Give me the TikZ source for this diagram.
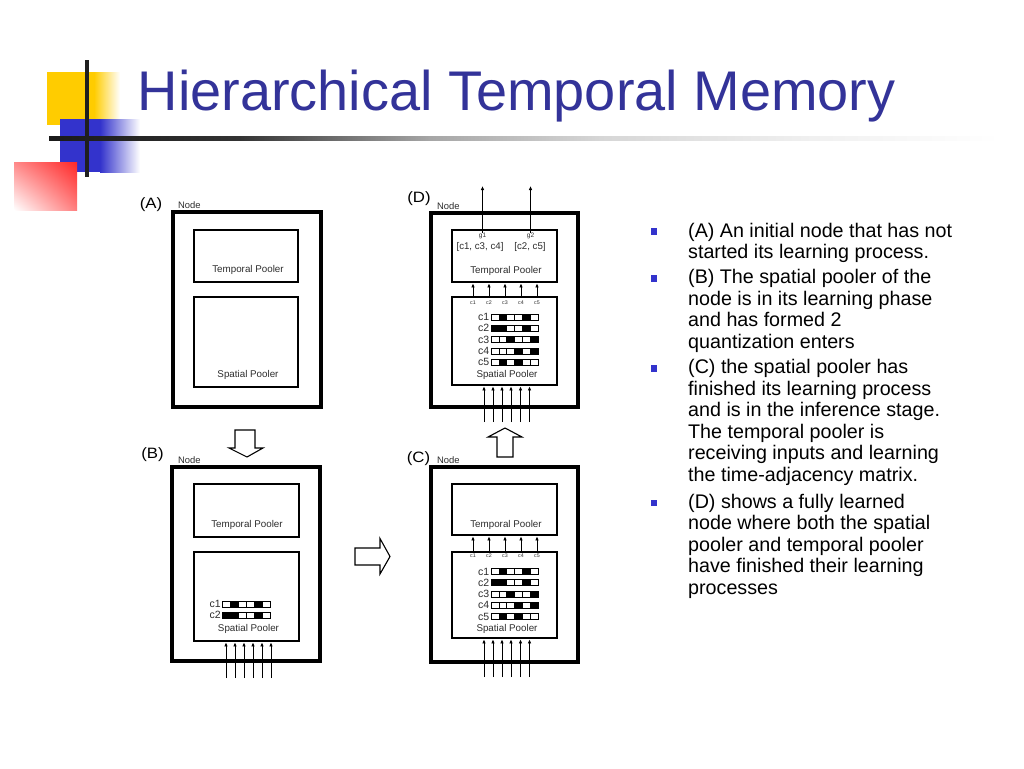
\documentclass[tikz,border=0pt]{standalone}
\usepackage{fontspec}
\setmainfont{Liberation Sans}
\usetikzlibrary{arrows.meta,shadings}
\definecolor{titleblue}{RGB}{51,51,153}
\definecolor{bulletblue}{RGB}{51,51,204}
\definecolor{sqyellow}{RGB}{255,204,0}
\definecolor{sqblue}{RGB}{51,51,204}
\definecolor{sqred}{RGB}{255,40,40}
\definecolor{labgray}{RGB}{45,45,45}
\pgfdeclarehorizontalshading{tline}{100bp}{color(0bp)=(black!90); color(25bp)=(black!90); color(35bp)=(black!80); color(45bp)=(black!35); color(54bp)=(black!16); color(65bp)=(black!6); color(75bp)=(white); color(100bp)=(white)}
\newcommand\cellrow[4]{%
  \foreach \v [count=\k from 0] in {#4} {
    \draw[cellsty, fill=black!\v] ({#1+\k*#3},{#2-3}) rectangle ({#1+(\k+1)*#3},{#2+3});
  }}
\tikzset{
  outerbox/.style={draw, line width=3.2pt, inner sep=0pt},
  innerbox/.style={draw, line width=2.8pt, inner sep=0pt},
  lbl/.style={font=\fontsize{9.8}{10}\selectfont, text=labgray, inner sep=0pt},
  nodelbl/.style={font=\fontsize{9.4}{10}\selectfont, text=labgray, inner sep=0pt, anchor=west},
  panellbl/.style={font=\fontsize{15}{15}\selectfont, inner sep=0pt, xscale=1.12},
  rowlbl/.style={font=\fontsize{10.5}{11}\selectfont, text=labgray, inner sep=0pt, anchor=east},
  tinylbl/.style={font=\fontsize{5.3}{5.3}\selectfont, text=labgray, inner sep=0pt},
  glbl/.style={font=\fontsize{6.5}{7}\selectfont, text=labgray, inner sep=0pt},
  grplbl/.style={font=\fontsize{9.7}{10}\selectfont, text=labgray, inner sep=0pt},
  cellsty/.style={draw=black, line width=0.7pt},
  inarr/.style={line width=0.9pt, -{Latex[length=4pt,width=3.6pt]}},
  blockarrow/.style={draw=black, line width=1.1pt, fill=white, line join=miter},
  body/.style={font=\fontsize{19.7}{21.6}\selectfont, inner sep=0pt, anchor=base west},
  bullet/.style={fill=bulletblue, draw=none, minimum size=6.5pt, inner sep=0pt}
}
\begin{document}
\begin{tikzpicture}[x=1pt,y=-1pt]
\useasboundingbox (0,0) rectangle (1024,768);
\fill[white] (0,0) rectangle (1024,768);
% decoration
\fill[sqyellow] (47,72) rectangle (94,125);
\shade[left color=sqyellow, right color=white] (94,72) rectangle (120,125);
\fill[sqblue] (60,119) rectangle (100,172);
\shade[left color=sqblue, right color=white] (100,119) rectangle (140,172);
\shade[upper left=sqred!55!white, upper right=sqred, lower left=white, lower right=sqred!60!white] (14,162) rectangle (77,210);
\shade[shading=tline] (49,136) rectangle (1000,140);
\fill[black!88] (85,60) rectangle (89,177);
% title
\node[anchor=base west, inner sep=0pt, font=\fontsize{55.9}{60}\selectfont, text=titleblue] (title) at (137.5,110) {Hierarchical Temporal Memory};

% ---------- Panel A ----------
\node[outerbox, minimum width=148pt, minimum height=195pt] (outA) at (247,309.5) {};
\node[innerbox, minimum width=104pt, minimum height=52pt] (tpA) at (246,256) {};
\node[innerbox, minimum width=104pt, minimum height=90pt] (spA) at (246,342) {};
\node[lbl] (tpAl) at (248,270) {Temporal Pooler};
\node[lbl] (spAl) at (248,375) {Spatial Pooler};
\node[panellbl] (labA) at (151,205) {(A)};
\node[nodelbl] (nodA) at (178,205.3) {Node};

% ---------- Panel B ----------
\node[outerbox, minimum width=148pt, minimum height=194pt] (outB) at (246,564) {};
\node[innerbox, minimum width=105pt, minimum height=53pt] (tpB) at (246.5,510.5) {};
\node[innerbox, minimum width=105pt, minimum height=89pt] (spB) at (246.5,596.5) {};
\node[lbl] (tpBl) at (247,525) {Temporal Pooler};
\node[lbl] (spBl) at (248.5,629) {Spatial Pooler};
\node[panellbl] (labB) at (152.5,455) {(B)};
\node[nodelbl] (nodB) at (178,459.7) {Node};
\node[rowlbl] (cB1) at (221,604) {c1};
\node[rowlbl] (cB2) at (221,615) {c2};
\cellrow{222}{604}{8.1}{0,100,0,0,100,0}
\cellrow{222}{615}{8.1}{100,100,0,0,100,0}
\foreach \x in {226,235,244,253,262,271} \draw[inarr] (\x,678) -- (\x,0 |- spB.south);

% ---------- Panel D ----------
\node[outerbox, minimum width=147pt, minimum height=194pt] (outD) at (504.5,310) {};
\node[innerbox, minimum width=105pt, minimum height=52pt] (tpD) at (504.5,256) {};
\node[innerbox, minimum width=105pt, minimum height=88pt] (spD) at (504.5,341) {};
\node[lbl] (tpDl) at (506,271) {Temporal Pooler};
\node[lbl] (spDl) at (507,375) {Spatial Pooler};
\node[panellbl] (labD) at (419,199) {(D)};
\node[nodelbl] (nodD) at (437,206) {Node};
\node[glbl] (g1) at (482.5,236) {g1};
\node[glbl] (g2) at (530.5,236) {g2};
\node[grplbl] (grp1) at (480,247) {[c1, c3, c4]};
\node[grplbl] (grp2) at (530,247) {[c2, c5]};
\coordinate (g1top) at (482.5,186);
\coordinate (g2top) at (530.5,186);
\draw[inarr] (g1.north) -- (g1top);
\draw[inarr] (g2.north) -- (g2top);
\foreach \x/\n in {473/1,489/2,505/3,521/4,537/5} {
  \draw[inarr] (\x,0 |- spD.north) -- (\x,0 |- tpD.south);
  \node[tinylbl] (tD\n) at (\x,302.5) {c\n};
}
\node[rowlbl] (cD1) at (489.5,317) {c1};
\node[rowlbl] (cD2) at (489.5,328.3) {c2};
\node[rowlbl] (cD3) at (489.5,339.6) {c3};
\node[rowlbl] (cD4) at (489.5,351) {c4};
\node[rowlbl] (cD5) at (489.5,362.3) {c5};
\cellrow{491}{317}{7.85}{0,100,0,0,100,0}
\cellrow{491}{328.3}{7.85}{100,100,0,0,100,0}
\cellrow{491}{339.6}{7.85}{0,0,100,0,0,100}
\cellrow{491}{351}{7.85}{0,0,0,100,0,100}
\cellrow{491}{362.3}{7.85}{0,100,0,100,0,0}
\foreach \x in {484,493,502,511,520.5,529.5} \draw[inarr] (\x,422) -- (\x,0 |- spD.south);

% ---------- Panel C ----------
\node[outerbox, minimum width=147pt, minimum height=195pt] (outC) at (504.5,564.5) {};
\node[innerbox, minimum width=105pt, minimum height=51pt] (tpC) at (504.5,509.5) {};
\node[innerbox, minimum width=105pt, minimum height=86pt] (spC) at (504.5,595) {};
\node[lbl] (tpCl) at (506,525) {Temporal Pooler};
\node[lbl] (spCl) at (507,629) {Spatial Pooler};
\node[panellbl] (labC) at (418.5,459) {(C)};
\node[nodelbl] (nodC) at (437,460) {Node};
\foreach \x/\n in {473/1,489/2,505/3,521/4,537/5} {
  \draw[inarr] (\x,0 |- spC.north) -- (\x,0 |- tpC.south);
  \node[tinylbl] (tC\n) at (\x,556) {c\n};
}
\node[rowlbl] (cC1) at (489.5,571.5) {c1};
\node[rowlbl] (cC2) at (489.5,582.7) {c2};
\node[rowlbl] (cC3) at (489.5,594) {c3};
\node[rowlbl] (cC4) at (489.5,605.2) {c4};
\node[rowlbl] (cC5) at (489.5,616.5) {c5};
\cellrow{491}{571.5}{7.85}{0,100,0,0,100,0}
\cellrow{491}{582.7}{7.85}{100,100,0,0,100,0}
\cellrow{491}{594}{7.85}{0,0,100,0,0,100}
\cellrow{491}{605.2}{7.85}{0,0,0,100,0,100}
\cellrow{491}{616.5}{7.85}{0,100,0,100,0,0}
\foreach \x in {484,493,502,511,520.5,529.5} \draw[inarr] (\x,677) -- (\x,0 |- spC.south);

% ---------- block arrows ----------
\draw[blockarrow] (235,430) -- (255,430) -- (255,448) -- (263,448) -- (247,457) -- (229,448) -- (235,448) -- cycle;
\draw[blockarrow] (355,548) -- (380,548) -- (380,538.5) -- (390,556.5) -- (380,574) -- (380,565) -- (355,565) -- cycle;
\draw[blockarrow] (505,428) -- (522,437) -- (513,437) -- (513,457) -- (497,457) -- (497,437) -- (488,437) -- cycle;

% ---------- bullet text ----------
\node[bullet] (bA) at (654,231.5) {};
\node[bullet] (bB) at (654,278.5) {};
\node[bullet] (bC) at (654,368.5) {};
\node[bullet] (bD) at (654,503) {};
\foreach \t [count=\i from 0] in {{(A) An initial node that has not},{started its learning process.}}
  \node[body] (ta\i) at (688,{237+21.6*\i}) {\t};
\foreach \t [count=\i from 0] in {{(B) The spatial pooler of the},{node is in its learning phase},{and has formed 2},{quantization enters}}
  \node[body] (tb\i) at (688,{283.5+21.6*\i}) {\t};
\foreach \t [count=\i from 0] in {{(C) the spatial pooler has},{finished its learning process},{and is in the inference stage.},{The temporal pooler is},{receiving inputs and learning},{the time-adjacency matrix.}}
  \node[body] (tc\i) at (688,{373.5+21.6*\i}) {\t};
\foreach \t [count=\i from 0] in {{(D) shows a fully learned},{node where both the spatial},{pooler and temporal pooler},{have finished their learning},{processes}}
  \node[body] (td\i) at (688,{508+21.6*\i}) {\t};
\end{tikzpicture}
\end{document}
